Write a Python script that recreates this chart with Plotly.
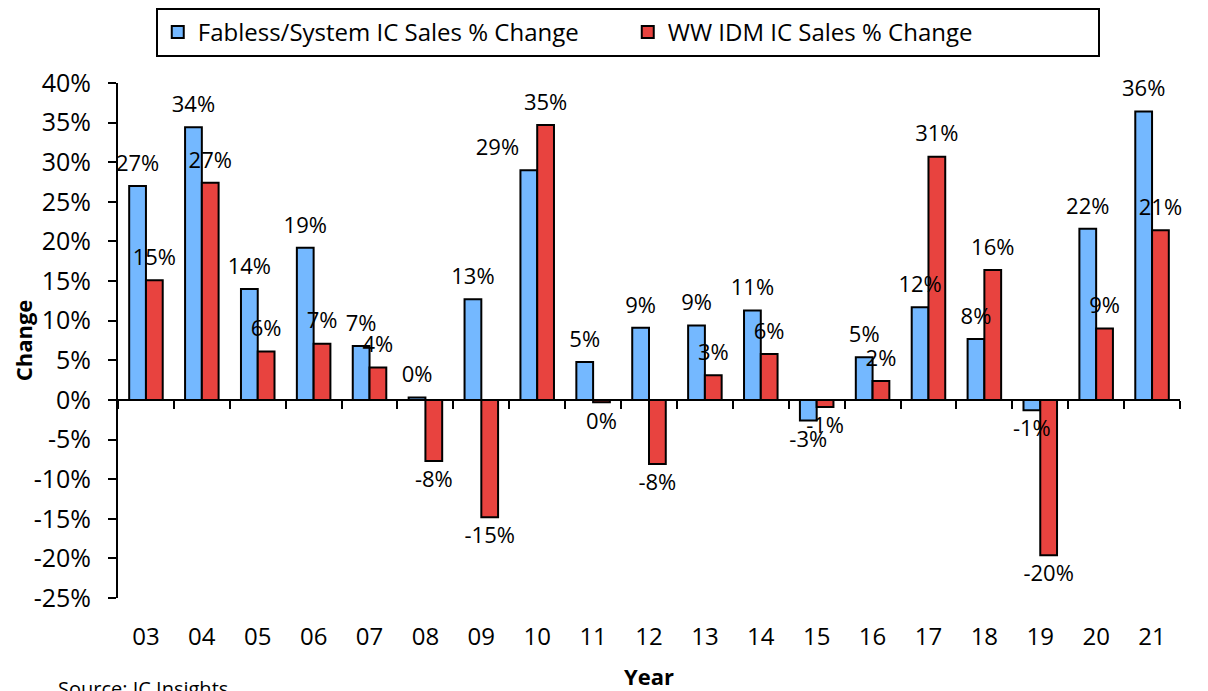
import plotly.graph_objects as go

years = ["03", "04", "05", "06", "07", "08", "09", "10", "11", "12",
         "13", "14", "15", "16", "17", "18", "19", "20", "21"]
fabless = [27.0, 34.4, 14.0, 19.2, 6.8, 0.3, 12.7, 29.0, 4.8, 9.1,
           9.4, 11.3, -2.6, 5.4, 11.7, 7.7, -1.3, 21.6, 36.4]
idm = [15.1, 27.4, 6.1, 7.1, 4.1, -7.7, -14.8, 34.7, -0.3, -8.1,
       3.1, 5.8, -0.9, 2.4, 30.7, 16.4, -19.6, 9.0, 21.4]
series_names = ["Fabless/System IC Sales % Change", "WW IDM IC Sales % Change"]
tick_vals = [-25, -20, -15, -10, -5, 0, 5, 10, 15, 20, 25, 30, 35, 40]

FONT = "Open Sans"


def labels(vals):
    return [f"{round(v):.0f}%" for v in vals]


def label_positions(vals, left_at=()):
    out = []
    for i, v in enumerate(vals):
        side = "left" if i in left_at else "center"
        out.append(("top " if v >= 0 else "bottom ") + side)
    return out


series = [(series_names[0], fabless, "#74B8FF", "a", (7,)),
          (series_names[1], idm, "#E8433F", "b", ())]

fig = go.Figure()
for name, vals, color, grp, _ in series:
    fig.add_trace(go.Bar(
        x=years, y=vals, name=name, offsetgroup=grp, alignmentgroup="g",
        marker=dict(color=color, line=dict(color="black", width=2)),
    ))
# data labels drawn above all bars, aligned with their bar group
for name, vals, color, grp, left_at in series:
    fig.add_trace(go.Scatter(
        x=years, y=vals, mode="markers+text", offsetgroup=grp, alignmentgroup="g",
        marker=dict(size=14, color="rgba(0,0,0,0)", line=dict(width=0)),
        text=labels(vals),
        textposition=label_positions(vals, left_at),
        textfont=dict(family=FONT, size=22, color="black"),
        cliponaxis=False, showlegend=False, hoverinfo="skip",
    ))

# invisible helper trace for the zero-line axis with category boundary ticks
fig.add_trace(go.Scatter(x=[-0.5, len(years) - 0.5], y=[0, 0], xaxis="x2",
                         mode="lines", line=dict(color="rgba(0,0,0,0)"),
                         showlegend=False, hoverinfo="skip"))

ymin, ymax = tick_vals[0], tick_vals[-1]
fig.update_layout(
    width=1200, height=683,
    margin=dict(l=110, r=28, t=75, b=93, autoexpand=False),
    paper_bgcolor="white", plot_bgcolor="white",
    barmode="group", bargap=0.4, bargroupgap=0,
    scattermode="group", scattergap=0.4,
    font=dict(family=FONT, size=22, color="black"),
    showlegend=True,
    legend=dict(orientation="h", x=0.48, xanchor="center", y=1.1456, yanchor="top",
                bordercolor="black", borderwidth=2,
                font=dict(family=FONT, size=24, color="black"),
                entrywidth=425, entrywidthmode="pixels"),
    xaxis=dict(type="category", range=[-0.5, len(years) - 0.5], automargin=False,
               showline=False, showgrid=False, zeroline=False, ticks="",
               tickfont=dict(family=FONT, size=24), ticklabelstandoff=22,
               title=dict(text="<b>Year</b>", font=dict(family=FONT, size=22), standoff=22)),
    xaxis2=dict(overlaying="x", anchor="free", position=(0 - ymin) / (ymax - ymin),
                range=[-0.5, len(years) - 0.5], type="linear",
                showline=True, linecolor="black", linewidth=2,
                ticks="outside", ticklen=8, tickwidth=2, tickcolor="black",
                tickvals=[i - 0.5 for i in range(len(years) + 1)],
                showticklabels=False, showgrid=False, zeroline=False),
    yaxis=dict(range=[ymin, ymax], tickvals=tick_vals, automargin=False,
               ticktext=[f"{v}%" for v in tick_vals],
               showline=True, linecolor="black", linewidth=2,
               ticks="outside", ticklen=8, tickwidth=2, tickcolor="black",
               showgrid=False, zeroline=False, ticklabelstandoff=12,
               tickfont=dict(family=FONT, size=25),
               title=dict(text="<b>Change</b>", font=dict(family=FONT, size=22), standoff=2)),
    annotations=[dict(text="Source: IC Insights", xref="paper", yref="paper",
                      x=-0.058, y=-0.1456, xanchor="left", yanchor="top",
                      showarrow=False, font=dict(family=FONT, size=20, color="black"))],
)

fig.write_html("out.html")
